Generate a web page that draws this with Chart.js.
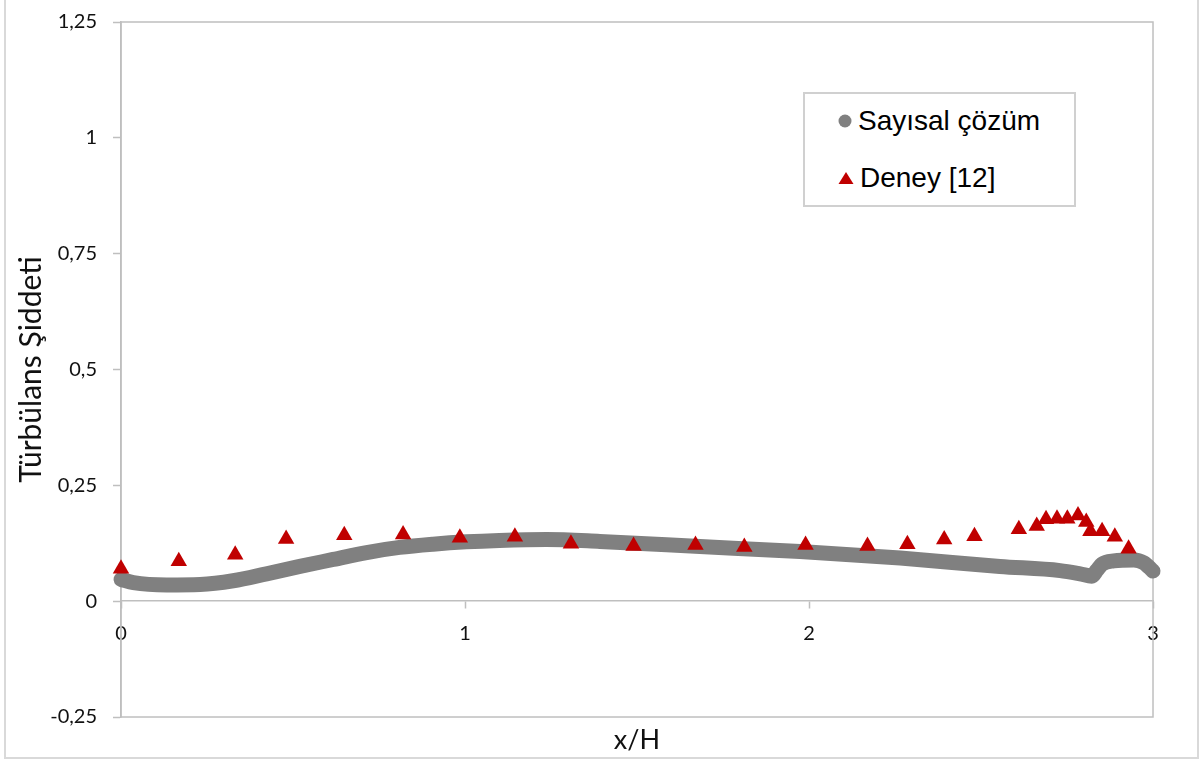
<!DOCTYPE html>
<html lang="tr">
<head>
  <meta charset="UTF-8">
  <title>Türbülans Şiddeti</title>
  <style>
    body {
      margin: 0;
      background: #fff;
    }

    .wrap {
      position: relative;
      width: 1200px;
      height: 760px;
    }

    /* legend box sits inside the plot, top right */
    #legend {
      position: absolute;
      left: 803px;
      top: 92px;
      width: 269px;
      height: 111px;
      border: 2px solid #d0d0d0;
      background: #fff;
      font-family: 'Liberation Sans', Arial, sans-serif;
      font-size: 28px;
      color: #000;
    }

    .item {
      position: absolute;
      left: 33px;
      height: 34px;
      display: flex;
      align-items: center;
      white-space: nowrap;
    }

    .item svg {
      margin-right: 6px;
    }
  </style>
  <script src="https://cdn.jsdelivr.net/npm/chart.js"></script>
</head>
<body>
  <div class="wrap">
    <canvas id="chart" width="1200" height="760"></canvas>
    <div id="legend"></div>
  </div>

  <script>
    // axis texts
    const xLabel = 'x/H';
    const yLabel = 'Türbülans Şiddeti';
    const seriesNames = ['Sayısal çözüm', 'Deney [12]'];

    // tick values
    const xTicks = [0, 1, 2, 3];
    const yTicks = [-0.25, 0, 0.25, 0.5, 0.75, 1, 1.25];

    // numerical solution
    const numX = [0, 0.036, 0.133, 0.23, 0.326, 0.423, 0.52, 0.617, 0.714, 0.81, 0.907, 1.004, 1.10, 1.237,
                  1.392, 1.683, 1.974, 2.265, 2.555, 2.73, 2.788, 2.822, 2.837, 2.852, 2.886, 2.944, 2.973, 3.0];
    const numY = [0.047, 0.040, 0.035, 0.036, 0.044, 0.059, 0.075, 0.090, 0.105, 0.116, 0.123, 0.128, 0.131, 0.133,
                  0.129, 0.118, 0.107, 0.093, 0.075, 0.066, 0.059, 0.054, 0.067, 0.080, 0.087, 0.089, 0.083, 0.065];

    // experiment (red triangles)
    const expX = [0, 0.168, 0.332, 0.48, 0.649, 0.82, 0.985, 1.145, 1.308, 1.49, 1.67, 1.812, 1.99, 2.17,
                  2.286, 2.393, 2.481, 2.61, 2.662, 2.689, 2.721, 2.751, 2.782, 2.806, 2.818, 2.852, 2.889, 2.929];
    const expY = [0.070, 0.086, 0.100, 0.134, 0.142, 0.144, 0.137, 0.139, 0.124, 0.119, 0.121, 0.117, 0.121, 0.119,
                  0.123, 0.133, 0.140, 0.155, 0.162, 0.177, 0.178, 0.178, 0.185, 0.171, 0.151, 0.151, 0.139, 0.113];

    const grey = '#808080';
    const red = '#C00000';
    const axisGrey = '#bfbfbf';

    Chart.defaults.font.family = 'Lato';
    Chart.defaults.color = '#111';

    // plot frame + outer chart border
    const framePlugin = {
      id: 'frame',
      beforeDraw(chart) {
        const ctx = chart.ctx;
        ctx.save();
        ctx.strokeStyle = '#d9d9d9';
        ctx.lineWidth = 2;
        ctx.strokeRect(5, -5, 1193, 763);
        ctx.restore();
      },
      beforeDatasetsDraw(chart) {
        const a = chart.chartArea;
        const ctx = chart.ctx;
        ctx.save();
        ctx.strokeStyle = axisGrey;
        ctx.lineWidth = 1.5;
        ctx.strokeRect(a.left, a.top, a.right - a.left, a.bottom - a.top);
        ctx.restore();
      }
    };

    const tickFont = { family: 'Lato', size: 20 };

    const chart = new Chart(document.getElementById('chart'), {
      type: 'scatter',
      data: {
        datasets: [
          {
            label: seriesNames[0],
            data: numX.map((x, i) => ({ x: x, y: numY[i] })),
            showLine: true,
            borderColor: grey,
            backgroundColor: grey,
            borderWidth: 15,
            borderCapStyle: 'round',
            borderJoinStyle: 'round',
            cubicInterpolationMode: 'monotone',
            pointRadius: 0,
            pointHoverRadius: 0,
            clip: false,
            order: 1
          },
          {
            label: seriesNames[1],
            data: expX.map((x, i) => ({ x: x, y: expY[i] })),
            pointStyle: 'triangle',
            pointRadius: 9.5,
            pointHoverRadius: 9.5,
            backgroundColor: red,
            borderColor: red,
            borderWidth: 0,
            clip: false,
            order: 0
          }
        ]
      },
      options: {
        responsive: false,
        animation: false,
        devicePixelRatio: 1,
        layout: {
          padding: { left: 0, top: 22, right: 47, bottom: 0 }
        },
        plugins: {
          legend: { display: false },
          tooltip: { enabled: false }
        },
        scales: {
          // bottom axis only carries the title
          x: {
            type: 'linear',
            position: 'bottom',
            min: 0,
            max: 3,
            ticks: { display: false },
            grid: { display: false },
            border: { display: false },
            title: {
              display: true,
              text: xLabel,
              font: { family: 'Lato', size: 27 },
              padding: { top: 0, bottom: 4 }
            },
            afterFit(s) { s.height = 43; }
          },
          // axis line with ticks drawn through y = 0
          x0: {
            type: 'linear',
            position: { y: 0 },
            min: 0,
            max: 3,
            afterBuildTicks(s) { s.ticks = xTicks.map(v => ({ value: v })); },
            ticks: { font: tickFont, padding: 13, maxRotation: 0 },
            grid: { drawOnChartArea: false, tickLength: 7, color: axisGrey, tickWidth: 1.5 },
            border: { color: axisGrey, width: 1.5 }
          },
          y: {
            type: 'linear',
            position: 'left',
            min: -0.25,
            max: 1.25,
            afterBuildTicks(s) { s.ticks = yTicks.map(v => ({ value: v })); },
            ticks: {
              font: tickFont,
              padding: 16,
              callback: v => String(v).replace('.', ',')
            },
            grid: { drawOnChartArea: false, tickLength: 8, color: axisGrey, tickWidth: 1.5 },
            border: { color: axisGrey, width: 1.5 },
            title: {
              display: true,
              text: yLabel,
              font: { family: 'Lato', size: 30 },
              padding: { top: 13, bottom: 0 }
            },
            afterFit(s) {
              s.width = 121;
              s.paddingTop = 0;
              s.paddingBottom = 0;
            }
          }
        }
      },
      plugins: [framePlugin]
    });

    // legend as html, built from the dataset labels
    const legend = document.getElementById('legend');
    const markers = [
      '<svg width="14" height="14"><circle cx="7" cy="7" r="6.5" fill="' + grey + '"/></svg>',
      '<svg width="16" height="14"><polygon points="8,1 15.5,13 0.5,13" fill="' + red + '"/></svg>'
    ];
    const tops = [10, 67];
    seriesNames.forEach((name, i) => {
      const item = document.createElement('div');
      item.className = 'item';
      item.style.top = tops[i] + 'px';
      item.innerHTML = markers[i] + '<span>' + name + '</span>';
      legend.appendChild(item);
    });
  </script>
</body>
</html>
